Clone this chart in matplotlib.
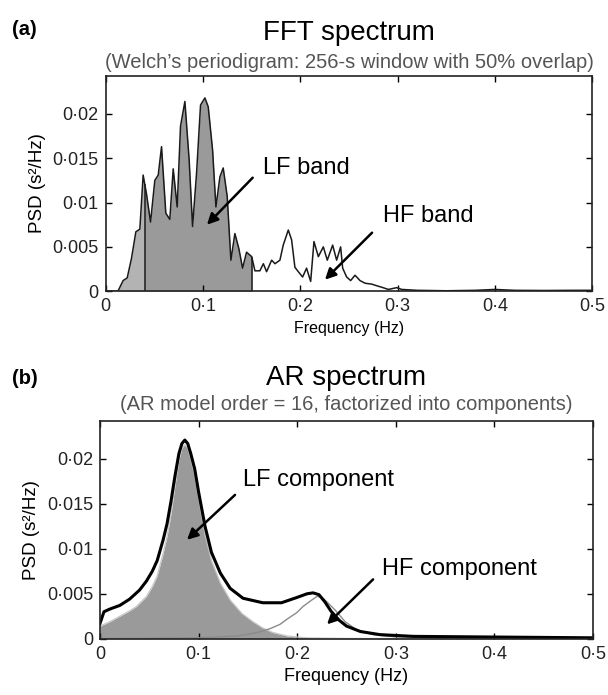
"""
FFT vs AR heart-rate-variability spectra, two stacked panels.
"""

import matplotlib

matplotlib.use("Agg")
import matplotlib.pyplot as plt
import numpy as np

# ── (a) Welch periodogram ────────────────────────────────────────────
fft_freq = [
    0.000, 0.0125, 0.0178, 0.022, 0.0264, 0.0309, 0.035, 0.0384, 0.040,
    0.0418, 0.046, 0.0504, 0.0539, 0.0573, 0.0617, 0.0658, 0.0693, 0.0734,
    0.0768, 0.0813, 0.0857, 0.0892, 0.0933, 0.0974, 0.1019, 0.1053, 0.1098,
    0.1132, 0.1173, 0.1207, 0.1248, 0.1286, 0.1327, 0.1368, 0.1406, 0.1447,
    0.150, 0.1533, 0.1584, 0.162, 0.1653, 0.1705, 0.1739, 0.179, 0.1824,
    0.1876, 0.191, 0.1944, 0.1979, 0.2023, 0.2064, 0.2106, 0.214, 0.2185,
    0.2236, 0.2277, 0.2332, 0.2373, 0.2414, 0.2435, 0.2476, 0.2517, 0.2562,
    0.2613, 0.2665, 0.2733, 0.279, 0.285, 0.2905, 0.299, 0.3042, 0.32,
    0.35, 0.38, 0.40, 0.42, 0.45, 0.48, 0.50,
]
fft_psd = [
    0.0, 0.0, 0.0012, 0.0015, 0.0037, 0.0067, 0.0070, 0.0131, 0.0121,
    0.0110, 0.0078, 0.0125, 0.0131, 0.0163, 0.0088, 0.0081, 0.0138, 0.0095,
    0.0186, 0.0214, 0.0148, 0.0073, 0.0133, 0.0210, 0.0218, 0.0208, 0.0159,
    0.0095, 0.0129, 0.0139, 0.0107, 0.0035, 0.0065, 0.0048, 0.0026, 0.0044,
    0.0039, 0.0023, 0.0023, 0.0031, 0.0022, 0.0035, 0.0031, 0.0035, 0.0052,
    0.0069, 0.0058, 0.0027, 0.0022, 0.0016, 0.0026, 0.0011, 0.0056, 0.0039,
    0.0050, 0.0035, 0.0052, 0.0035, 0.0050, 0.0026, 0.0016, 0.0012, 0.0018,
    0.0012, 0.0009, 0.0008, 0.0006, 0.0004, 0.0002, 0.0004, 0.0002, 0.0001,
    0.00005, 0.0001, 0.0002, 0.0001, 0.00008, 0.0001, 0.0001,
]
vlf_edge, lf_edge = 0.04, 0.15

# ── (b) AR spectrum and its two components ───────────────────────────
ar_freq = [
    0.000, 0.004, 0.010, 0.020, 0.030, 0.040, 0.047, 0.053, 0.058, 0.064,
    0.068, 0.072, 0.076, 0.080, 0.083, 0.086, 0.089, 0.092, 0.096, 0.100,
    0.1065, 0.113, 0.122, 0.132, 0.145, 0.165, 0.184, 0.200, 0.210, 0.216,
    0.222, 0.228, 0.234, 0.242, 0.250, 0.264, 0.284, 0.318, 0.385, 0.500,
]
ar_total = [
    0.0017, 0.0030, 0.0033, 0.0037, 0.0044, 0.0054, 0.0064, 0.0075, 0.0087,
    0.0110, 0.0128, 0.0153, 0.0181, 0.0206, 0.0217, 0.0221, 0.0217, 0.0206,
    0.0189, 0.0163, 0.0125, 0.0096, 0.0073, 0.0056, 0.0045, 0.0040, 0.0040,
    0.0046, 0.0050, 0.0051, 0.0049, 0.0041, 0.0031, 0.0021, 0.0014, 0.0008,
    0.00045, 0.00026, 0.0002, 0.0001,
]
lf_freq = [
    0.000, 0.010, 0.020, 0.030, 0.037, 0.047, 0.053, 0.058, 0.064, 0.068,
    0.072, 0.076, 0.080, 0.083, 0.086, 0.089, 0.092, 0.096, 0.100, 0.1065,
    0.113, 0.122, 0.132, 0.144, 0.155, 0.165, 0.175, 0.190, 0.210, 0.250,
    0.500,
]
lf_comp = [
    0.0014, 0.0019, 0.0025, 0.0031, 0.0036, 0.0047, 0.0058, 0.0070, 0.0095,
    0.0114, 0.0139, 0.0170, 0.0199, 0.0212, 0.0216, 0.0212, 0.0200, 0.0182,
    0.0156, 0.0116, 0.0087, 0.0062, 0.0043, 0.0028, 0.0019, 0.0012, 0.0007,
    0.0003, 0.0001, 0.00003, 0.0,
]
hf_freq = [
    0.000, 0.100, 0.140, 0.160, 0.172, 0.1826, 0.190, 0.1995, 0.206, 0.2147,
    0.220, 0.225, 0.230, 0.2383, 0.2485, 0.260, 0.277, 0.300, 0.350, 0.500,
]
hf_comp = [
    0.0, 0.0001, 0.0003, 0.0007, 0.0011, 0.0016, 0.0022, 0.0029, 0.0036,
    0.0043, 0.0047, 0.0046, 0.0041, 0.0032, 0.0019, 0.0010, 0.00045, 0.0002,
    0.0001, 0.00005,
]

x_ticks = [0, 0.1, 0.2, 0.3, 0.4, 0.5]
x_labels = ["0", "0·1", "0·2", "0·3", "0·4", "0·5"]
y_ticks = [0, 0.005, 0.01, 0.015, 0.02]
y_labels = ["0", "0·005", "0·01", "0·015", "0·02"]

plt.rcParams["font.family"] = ["Liberation Sans", "DejaVu Sans"]


def style_axes(ax, ytop, xlabel_size):
    ax.set_xlim(0, 0.5)
    ax.set_ylim(0, ytop)
    ax.set_xticks(x_ticks, x_labels)
    ax.set_yticks(y_ticks, y_labels)
    ax.tick_params(direction="in", length=4, width=1, top=True, right=True,
                   labelsize=13, labelcolor="#222222", pad=5)
    for s in ax.spines.values():
        s.set_linewidth(1.2)
        s.set_color("#222222")
    ax.set_xlabel("Frequency (Hz)", fontsize=xlabel_size, labelpad=4)
    ax.set_ylabel("PSD (s²/Hz)", fontsize=13.5, labelpad=5)


def main():
    fig = plt.figure(figsize=(6.08, 6.95), dpi=100)
    arrow = dict(arrowstyle="-|>", color="black", lw=1.8, mutation_scale=16,
                 shrinkA=0, shrinkB=0)

    # (a) FFT spectrum
    ax1 = fig.add_axes([0.174, 0.581, 0.800, 0.310])
    f = np.array(fft_freq)
    p = np.array(fft_psd)
    vlf = f <= vlf_edge
    lf = (f >= vlf_edge) & (f <= lf_edge)
    ax1.fill_between(f[vlf], 0, p[vlf], color="#b3b3b3", lw=0)
    ax1.fill_between(f[lf], 0, p[lf], color="#9a9a9a", lw=0)
    ax1.plot(f, p, color="#1a1a1a", lw=1.1)
    for edge in (vlf_edge, lf_edge):
        ax1.vlines(edge, 0, np.interp(edge, f, p), color="#1a1a1a", lw=1.1)
    style_axes(ax1, 0.0243, 11.5)

    ax1.text(0.1615, 0.0139, "LF band", fontsize=17, va="center")
    ax1.annotate("", xy=(0.104, 0.0075), xytext=(0.151, 0.0128),
                 arrowprops=arrow)
    ax1.text(0.285, 0.0085, "HF band", fontsize=17, va="center")
    ax1.annotate("", xy=(0.2253, 0.0013), xytext=(0.2737, 0.0066),
                 arrowprops=arrow)

    cx1 = 0.174 + 0.800 / 2
    fig.text(cx1, 0.942, "FFT spectrum", fontsize=20, ha="center",
             va="baseline")
    fig.text(cx1, 0.902,
             "(Welch\u2019s periodigram: 256-s window with 50% overlap)",
             fontsize=14.5, ha="center", va="baseline", color="#555555")
    fig.text(0.02, 0.957, "(a)", fontsize=14.5, fontweight="bold",
             va="center")

    # (b) AR spectrum
    ax2 = fig.add_axes([0.1645, 0.081, 0.811, 0.313])
    ax2.fill_between(lf_freq, 0, lf_comp, color="#9a9a9a", lw=0)
    ax2.plot(lf_freq, lf_comp, color="#c8c8c8", lw=0.9)
    ax2.plot(hf_freq, hf_comp, color="#8a8a8a", lw=1.0)
    ax2.plot(ar_freq, ar_total, color="black", lw=2.2)
    style_axes(ax2, 0.0242, 13)

    ax2.text(0.145, 0.0177, "LF component", fontsize=17, va="center")
    ax2.annotate("", xy=(0.0882, 0.0110), xytext=(0.1369, 0.0160),
                 arrowprops=arrow)
    ax2.text(0.286, 0.0077, "HF component", fontsize=17, va="center")
    ax2.annotate("", xy=(0.2302, 0.0016), xytext=(0.2769, 0.0066),
                 arrowprops=arrow)

    cx2 = 0.1645 + 0.811 / 2
    fig.text(cx2, 0.446, "AR spectrum", fontsize=20, ha="center",
             va="baseline")
    fig.text(cx2, 0.410,
             "(AR model order = 16, factorized into components)",
             fontsize=14.5, ha="center", va="baseline", color="#555555")
    fig.text(0.02, 0.456, "(b)", fontsize=14.5, fontweight="bold",
             va="center")

    fig.savefig("out.png", dpi=100)


if __name__ == "__main__":
    main()
